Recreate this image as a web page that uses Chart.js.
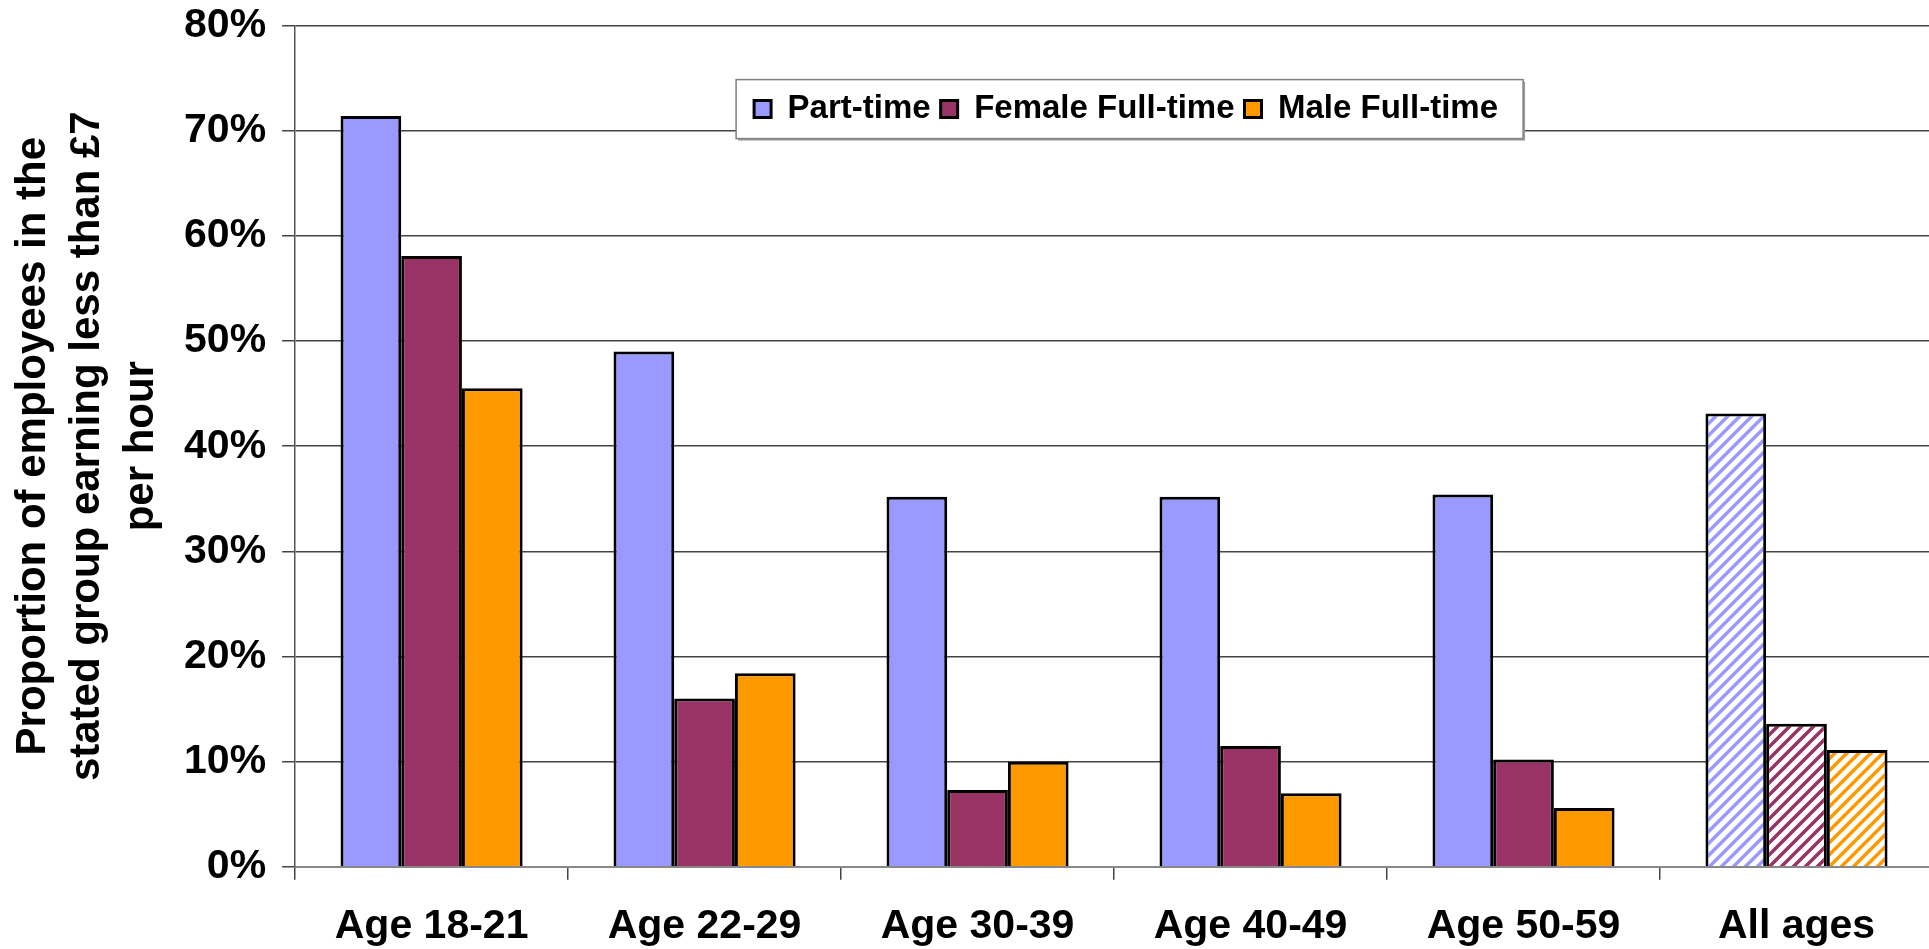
<!DOCTYPE html>
<html>
<head>
<meta charset="utf-8">
<title>Employees paid less than £7 per hour</title>
<script src="https://cdn.jsdelivr.net/npm/chart.js@4.4.1/dist/chart.umd.min.js"></script>
<style>
  html, body { margin: 0; padding: 0; background: #fff; overflow: hidden; }
  #wrap { position: relative; width: 1929px; height: 949px; overflow: hidden; }
  /* canvas is taller than the window: title sits mostly above the top edge */
  #chart { position: absolute; left: 0; top: -52px; }
</style>
</head>
<body>
<div id="wrap"><canvas id="chart" width="1933" height="1078"></canvas></div>
<script>
// ---- Data (percent of employees in group earning < £7/hour) ----
const categories = ["Age 18-21", "Age 22-29", "Age 30-39", "Age 40-49", "Age 50-59", "All ages"];
const partTime   = [71.4, 49.0, 35.2, 35.2, 35.4, 43.1];
const femaleFull = [58.1, 16.0, 7.3, 11.5, 10.2, 13.6];
const maleFull   = [45.5, 18.4, 10.0, 7.0, 5.6, 11.1];
const hatched    = [false, false, false, false, false, true];
const seriesNames = ["Part-time", "Female Full-time", "Male Full-time"];
const yMax = 80;
const yStep = 10;

const titleText = "Share of employees paid less than £7 per hour";
const yTitle = [
  "Proportion of employees in the",
  "stated group earning less than £7",
  "per hour",
];

Chart.defaults.font.family = "'Liberation Sans', Arial, sans-serif";

// Diagonal hatch fill used for the "All ages" bars.
function hatch(color) {
  const s = 12;
  const c = document.createElement("canvas");
  c.width = s; c.height = s;
  const g = c.getContext("2d");
  g.fillStyle = "#fff";
  g.fillRect(0, 0, s, s);
  g.strokeStyle = color;
  g.lineWidth = 3.5;
  g.beginPath();
  g.moveTo(-s / 2, s / 2); g.lineTo(s / 2, -s / 2);
  g.moveTo(0, s); g.lineTo(s, 0);
  g.moveTo(s / 2, s * 1.5); g.lineTo(s * 1.5, s / 2);
  g.stroke();
  return g.createPattern(c, "repeat");
}

function fills(color) {
  const pat = hatch(color);
  return hatched.map(h => (h ? pat : color));
}

// ---- Legend boxed inside the plot area ----
const legendBox = {
  id: "legendBox",
  afterLayout(chart) {
    const a = chart.chartArea;
    const lg = chart.legend;
    const r = { x: a.left + 441, y: a.top + 54, w: 787, h: 59 };
    chart.$legendRect = r;
    lg.left = r.x + 8;
    lg.right = r.x + 950;
    lg.top = r.y + 3;
    lg.bottom = r.y + r.h - 1;
    lg.width = lg.right - lg.left;
    lg.height = lg.bottom - lg.top;
  },
  beforeDatasetsDraw(chart) {
    const r = chart.$legendRect;
    const ctx = chart.ctx;
    ctx.save();
    ctx.fillStyle = "#a0a0a0";
    ctx.fillRect(r.x + 2, r.y + 2, r.w, r.h);
    ctx.fillStyle = "#fff";
    ctx.fillRect(r.x, r.y, r.w, r.h);
    ctx.strokeStyle = "#808080";
    ctx.lineWidth = 1.5;
    ctx.strokeRect(r.x, r.y, r.w, r.h);
    ctx.restore();
    chart.legend.draw();
  },
};

const colors = ["#9999FF", "#993366", "#FF9900"];
const values = [partTime, femaleFull, maleFull];

new Chart(document.getElementById("chart"), {
  type: "bar",
  data: {
    labels: categories,
    datasets: values.map((v, i) => ({
      label: seriesNames[i],
      data: v,
      backgroundColor: fills(colors[i]),
      borderColor: "#000",
      borderWidth: 3,
      categoryPercentage: 0.667,
      barPercentage: 1.0,
    })),
  },
  options: {
    responsive: false,
    devicePixelRatio: 1,
    animation: false,
    layout: { padding: 0 },
    scales: {
      x: {
        ticks: {
          color: "#000",
          font: { size: 41, weight: "bold" },
          padding: 22,
          maxRotation: 0,
          autoSkip: false,
        },
        grid: { drawOnChartArea: false, tickLength: 13, color: "#444", lineWidth: 1.5 },
        border: { color: "#888", width: 2 },
      },
      y: {
        min: 0,
        max: yMax,
        ticks: {
          stepSize: yStep,
          callback: v => v + "%",
          color: "#000",
          font: { size: 41, weight: "bold" },
          padding: 16,
        },
        grid: { color: "#444", lineWidth: 1.5, tickLength: 13 },
        border: { color: "#555", width: 1.5 },
        title: {
          display: true,
          text: yTitle,
          color: "#000",
          font: { size: 42, weight: "bold", lineHeight: 1.286 },
          padding: { top: 6, bottom: 0 },
        },
      },
    },
    plugins: {
      title: {
        display: true,
        text: titleText,
        color: "#000",
        font: { size: 48, weight: "bold" },
        padding: { top: 0, bottom: 20 },
      },
      legend: {
        position: "bottom",
        align: "start",
        labels: {
          boxWidth: 17,
          boxHeight: 17,
          padding: 10,
          color: "#000",
          font: { size: 33, weight: "bold" },
        },
      },
      tooltip: { enabled: false },
    },
  },
  plugins: [legendBox],
});
</script>
</body>
</html>
